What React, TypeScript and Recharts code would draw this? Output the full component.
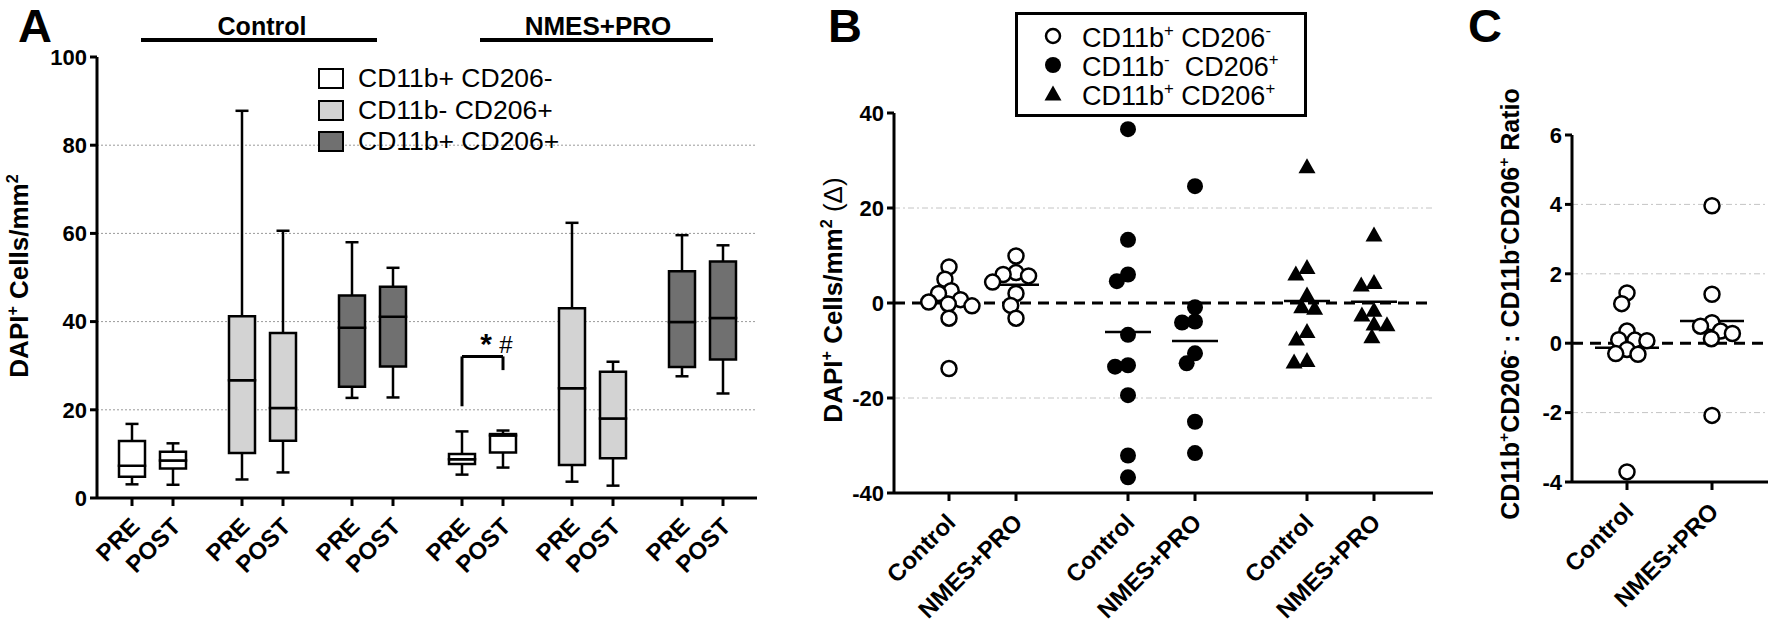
import React from "react";
import {
  CartesianGrid,
  ComposedChart,
  ReferenceArea,
  ReferenceLine,
  Scatter,
  XAxis,
  YAxis,
} from "recharts";

const FONT = '"Liberation Sans", Arial, Helvetica, sans-serif';

// ---- Panel A: one box per entry, order = Control (3 populations x PRE/POST), then NMES+PRO
const groupsA = ["Control", "NMES+PRO"];
const phasesA = ["PRE", "POST"];
const populationsA = ["CD11b+ CD206-", "CD11b- CD206+", "CD11b+ CD206+"];
const populationFills = ["#ffffff", "#d3d3d3", "#707070"];

const boxMin = [3.1, 3.0, 4.2, 5.8, 22.7, 22.8, 5.3, 6.9, 3.7, 2.8, 27.6, 23.7];
const boxQ1 = [4.8, 6.7, 10.2, 13.0, 25.2, 29.8, 7.7, 10.3, 7.5, 9.0, 29.7, 31.4];
const boxMedian = [7.3, 8.5, 26.7, 20.4, 38.6, 41.1, 8.8, 14.2, 24.9, 18.0, 39.9, 40.8];
const boxQ3 = [12.9, 10.5, 41.2, 37.4, 45.9, 47.9, 10.0, 14.5, 43.0, 28.6, 51.4, 53.6];
const boxMax = [16.8, 12.4, 87.8, 60.6, 58.0, 52.2, 15.1, 15.3, 62.4, 30.9, 59.6, 57.3];
const ticksA = [0, 20, 40, 60, 80, 100];

// ---- Panel B: change (POST - PRE) per subject
const groupsB = ["Control", "NMES+PRO"];
const deltaM1Control = [7.6, 5.0, 2.6, 2.0, 0.7, 0.2, -0.2, -0.6, -3.2, -13.8];
const deltaM1Nmes = [9.9, 6.4, 6.0, 5.7, 4.4, 2.0, -0.5, -3.2];
const deltaM2Control = [36.6, 13.3, 6.0, 4.6, -6.7, -13.1, -13.4, -19.4, -32.1, -36.7];
const deltaM2Nmes = [24.6, -0.9, -3.9, -4.1, -10.6, -12.7, -25.0, -31.6];
const deltaDPControl = [28.7, 7.5, 6.1, 1.7, -0.8, -1.1, -6.0, -7.6, -12.1, -12.4];
const deltaDPNmes = [14.3, 4.3, 3.8, -1.5, -2.5, -4.4, -4.6, -7.1];
const ticksB = [-40, -20, 0, 20, 40];

// ---- Panel C: ratio change per subject
const ratioControl = [1.45, 1.14, 0.35, 0.1, 0.09, 0.07, -0.18, -0.3, -0.32, -3.71];
const ratioNmes = [3.96, 1.41, 0.59, 0.49, 0.35, 0.28, 0.13, -2.08];
const ticksC = [-4, -2, 0, 2, 4, 6];

const mean = (v: number[]) => v.reduce((a, b) => a + b, 0) / v.length;

// simple beeswarm: smallest horizontal offset (px) that keeps markers apart
function swarm(values: number[], pxPerUnit: number, diameter: number) {
  const placed: { dx: number; py: number }[] = [];
  return values.map((v) => {
    const py = v * pxPerUnit;
    const blocked: [number, number][] = [];
    placed.forEach((p) => {
      const dy = Math.abs(p.py - py);
      if (dy < diameter) {
        const w = Math.sqrt(diameter * diameter - dy * dy);
        blocked.push([p.dx - w, p.dx + w]);
      }
    });
    const cands = [0, ...blocked.flatMap(([a, b]) => [a, b])].sort(
      (a, b) => Math.abs(a) - Math.abs(b)
    );
    const dx =
      cands.find((c) => blocked.every(([a, b]) => c <= a + 1e-6 || c >= b - 1e-6)) ?? 0;
    placed.push({ dx, py });
    return dx;
  });
}

const axisStyle = { stroke: "#000", strokeWidth: 3 };
const yTick = { fill: "#000", fontSize: 22, fontWeight: 700, fontFamily: FONT };

function SlantTick(props: any) {
  const { x, y, payload, labelOf, fontSize, ox, oy } = props;
  const tx = x + ox;
  const ty = y + oy;
  return (
    <text
      x={tx}
      y={ty}
      transform={`rotate(-45 ${tx} ${ty})`}
      textAnchor="end"
      fontFamily={FONT}
      fontSize={fontSize}
      fontWeight={700}
      fill="#000"
    >
      {labelOf(payload.value)}
    </text>
  );
}

const Sup = ({ c }: { c: string }) => (
  <span style={{ fontSize: "0.62em", verticalAlign: "0.6em", lineHeight: 0 }}>{c}</span>
);

function Abs({ x, y, children, style }: any) {
  return (
    <div
      style={{
        position: "absolute",
        left: x,
        top: y,
        transform: "translate(-50%, -50%)",
        whiteSpace: "nowrap",
        lineHeight: 1,
        ...style,
      }}
    >
      {children}
    </div>
  );
}

// panel letter placed by its left edge and baseline
function Letter({ x, baseline, children }: any) {
  const fs = 47;
  return (
    <div
      style={{
        position: "absolute",
        left: x,
        top: baseline - 0.905 * fs,
        fontSize: fs,
        fontWeight: 700,
        lineHeight: 1.117,
        whiteSpace: "nowrap",
      }}
    >
      {children}
    </div>
  );
}

function VLabel({ x, y, children, style }: any) {
  return (
    <div
      style={{
        position: "absolute",
        left: x,
        top: y,
        transform: "translate(-50%, -50%) rotate(-90deg)",
        whiteSpace: "nowrap",
        lineHeight: 1,
        ...style,
      }}
    >
      {children}
    </div>
  );
}

// ---------------- Panel A ----------------
function PanelA() {
  const boxes = boxMedian.map((med, i) => {
    const g = Math.floor(i / 6);
    const p = Math.floor(i / 2) % 3;
    const ph = i % 2;
    return {
      x: (g * 3 + p) * 110 + ph * 41,
      phase: phasesA[ph],
      fill: populationFills[p],
      min: boxMin[i],
      q1: boxQ1[i],
      med,
      q3: boxQ3[i],
      max: boxMax[i],
    };
  });
  const labelOf = (v: number) => boxes.find((b) => b.x === v)?.phase ?? "";
  const hw = 13;
  const cap = 6.5;
  const ln = { stroke: "#000", strokeWidth: 2.5, ifOverflow: "visible" as const };
  const pre = boxes[6];
  const post = boxes[7];

  return (
    <div style={{ position: "absolute", left: 0, top: 0 }}>
      <ComposedChart width={770} height={622} margin={{ top: 57, right: 13, left: 0, bottom: 34 }}>
        <CartesianGrid
          vertical={false}
          horizontalValues={[20, 40, 60, 80]}
          stroke="#9a9a9a"
          strokeDasharray="2 2"
        />
        <XAxis
          type="number"
          dataKey="x"
          domain={[-35, 625]}
          allowDataOverflow
          ticks={boxes.map((b) => b.x)}
          interval={0}
          height={90}
          axisLine={axisStyle}
          tickLine={axisStyle}
          tickSize={8}
          tickMargin={2}
          tick={<SlantTick labelOf={labelOf} fontSize={24} ox={9} oy={20} />}
        />
        <YAxis
          type="number"
          dataKey="y"
          domain={[0, 100]}
          ticks={ticksA}
          interval={0}
          width={97}
          axisLine={axisStyle}
          tickLine={axisStyle}
          tickSize={7}
          tickMargin={3}
          tick={yTick}
        />
        <Scatter
          data={boxes.map((b) => ({ x: b.x, y: b.med }))}
          shape={() => <g />}
          isAnimationActive={false}
        />
        {boxes.map((b, i) => (
          <React.Fragment key={i}>
            <ReferenceLine {...ln} segment={[{ x: b.x, y: b.q3 }, { x: b.x, y: b.max }]} />
            <ReferenceLine {...ln} segment={[{ x: b.x, y: b.q1 }, { x: b.x, y: b.min }]} />
            <ReferenceLine {...ln} segment={[{ x: b.x - cap, y: b.max }, { x: b.x + cap, y: b.max }]} />
            <ReferenceLine {...ln} segment={[{ x: b.x - cap, y: b.min }, { x: b.x + cap, y: b.min }]} />
            <ReferenceArea
              x1={b.x - hw}
              x2={b.x + hw}
              y1={b.q1}
              y2={b.med}
              fill={b.fill}
              fillOpacity={1}
              stroke="#000"
              strokeWidth={2.5}
              ifOverflow="visible"
            />
            <ReferenceArea
              x1={b.x - hw}
              x2={b.x + hw}
              y1={b.med}
              y2={b.q3}
              fill={b.fill}
              fillOpacity={1}
              stroke="#000"
              strokeWidth={2.5}
              ifOverflow="visible"
            />
          </React.Fragment>
        ))}
        {/* significance bracket NMES+PRO CD11b+CD206- PRE vs POST */}
        <ReferenceLine {...ln} strokeWidth={3} segment={[{ x: pre.x, y: 20.8 }, { x: pre.x, y: 32.1 }]} />
        <ReferenceLine {...ln} strokeWidth={3} segment={[{ x: pre.x, y: 32.1 }, { x: post.x, y: 32.1 }]} />
        <ReferenceLine {...ln} strokeWidth={3} segment={[{ x: post.x, y: 32.1 }, { x: post.x, y: 29 }]} />
      </ComposedChart>
    </div>
  );
}

// ---------------- Panel B ----------------
const circleOpen = (p: any) => (
  <circle cx={p.cx} cy={p.cy} r={7.5} fill="#fff" stroke="#000" strokeWidth={2.5} />
);
const circleFilled = (p: any) => <circle cx={p.cx} cy={p.cy} r={8} fill="#000" />;
const triangle = (p: any) => (
  <path
    d={`M${p.cx},${p.cy - 8.5} L${p.cx + 8.5},${p.cy + 6.5} L${p.cx - 8.5},${p.cy + 6.5} Z`}
    fill="#000"
  />
);

function PanelB() {
  const sets = [
    [deltaM1Control, deltaM1Nmes],
    [deltaM2Control, deltaM2Nmes],
    [deltaDPControl, deltaDPNmes],
  ];
  const shapes = [circleOpen, circleFilled, triangle];
  const series = sets.flatMap((pair, s) =>
    pair.map((vals, g) => {
      const x0 = s * 179 + g * 67;
      const off = swarm(vals, 4.75, 13);
      return {
        x0,
        label: groupsB[g],
        shape: shapes[s],
        mean: mean(vals),
        pts: vals.map((v, k) => ({ x: x0 + off[k], y: v })),
      };
    })
  );
  const labelOf = (v: number) => series.find((d) => d.x0 === v)?.label ?? "";

  return (
    <div style={{ position: "absolute", left: 800, top: 0 }}>
      <ComposedChart width={640} height={622} margin={{ top: 113, right: 7, left: 0, bottom: 9 }}>
        <CartesianGrid
          vertical={false}
          horizontalValues={[-20, 20]}
          stroke="#c4c4c4"
          strokeDasharray="6 3 2 3"
        />
        <XAxis
          type="number"
          dataKey="x"
          domain={[-55, 484]}
          allowDataOverflow
          ticks={series.map((d) => d.x0)}
          interval={0}
          height={120}
          axisLine={axisStyle}
          tickLine={axisStyle}
          tickSize={8}
          tickMargin={2}
          tick={<SlantTick labelOf={labelOf} fontSize={24} ox={8} oy={21} />}
        />
        <YAxis
          type="number"
          dataKey="y"
          domain={[-40, 40]}
          ticks={ticksB}
          interval={0}
          width={94}
          axisLine={axisStyle}
          tickLine={axisStyle}
          tickSize={7}
          tickMargin={3}
          tick={yTick}
        />
        <ReferenceLine y={0} stroke="#000" strokeWidth={3} strokeDasharray="11 7" />
        {series.map((d, i) => (
          <Scatter key={i} data={d.pts} shape={d.shape} isAnimationActive={false} />
        ))}
        {series.map((d, i) => (
          <ReferenceLine
            key={"m" + i}
            stroke="#000"
            strokeWidth={2.5}
            segment={[
              { x: d.x0 - 23, y: d.mean },
              { x: d.x0 + 23, y: d.mean },
            ]}
          />
        ))}
      </ComposedChart>
    </div>
  );
}

// ---------------- Panel C ----------------
function PanelC() {
  const groups = [ratioControl, ratioNmes].map((vals, g) => {
    const x0 = g * 85;
    const off = swarm(vals, 34.7, 12);
    return {
      x0,
      label: groupsB[g],
      mean: mean(vals),
      pts: vals.map((v, k) => ({ x: x0 + off[k], y: v })),
    };
  });
  const labelOf = (v: number) => groups.find((d) => d.x0 === v)?.label ?? "";

  return (
    <div style={{ position: "absolute", left: 1480, top: 0 }}>
      <ComposedChart width={290} height={622} margin={{ top: 135, right: 2, left: 0, bottom: 10 }}>
        <CartesianGrid
          vertical={false}
          horizontalValues={[-2, 2, 4]}
          stroke="#c4c4c4"
          strokeDasharray="6 3 2 3"
        />
        <XAxis
          type="number"
          dataKey="x"
          domain={[-55, 141]}
          allowDataOverflow
          ticks={groups.map((d) => d.x0)}
          interval={0}
          height={130}
          axisLine={axisStyle}
          tickLine={axisStyle}
          tickSize={8}
          tickMargin={2}
          tick={<SlantTick labelOf={labelOf} fontSize={24} ox={8} oy={21} />}
        />
        <YAxis
          type="number"
          dataKey="y"
          domain={[-4, 6]}
          ticks={ticksC}
          interval={0}
          width={92}
          axisLine={axisStyle}
          tickLine={axisStyle}
          tickSize={7}
          tickMargin={3}
          tick={yTick}
        />
        <ReferenceLine y={0} stroke="#000" strokeWidth={3} strokeDasharray="11 7" />
        {groups.map((d, i) => (
          <Scatter key={i} data={d.pts} shape={circleOpen} isAnimationActive={false} />
        ))}
        {groups.map((d, i) => (
          <ReferenceLine
            key={"m" + i}
            stroke="#000"
            strokeWidth={2.5}
            segment={[
              { x: d.x0 - 32, y: d.mean },
              { x: d.x0 + 32, y: d.mean },
            ]}
          />
        ))}
      </ComposedChart>
    </div>
  );
}

export default function App() {
  const legendMarkers = [
    <circle cx={10} cy={10} r={7} fill="#fff" stroke="#000" strokeWidth={2.5} />,
    <circle cx={10} cy={10} r={8} fill="#000" />,
    <path d="M10,1.5 L18.5,16.5 L1.5,16.5 Z" fill="#000" />,
  ];
  const legendTextsB = [
    <>CD11b<Sup c="+" /> CD206<Sup c="-" /></>,
    <>CD11b<Sup c="-" />&nbsp; CD206<Sup c="+" /></>,
    <>CD11b<Sup c="+" /> CD206<Sup c="+" /></>,
  ];
  return (
    <div
      style={{
        position: "absolute",
        left: 0,
        top: 0,
        width: 1770,
        height: 622,
        background: "#fff",
        fontFamily: FONT,
        color: "#000",
        overflow: "hidden",
      }}
    >
      <PanelA />
      <PanelB />
      <PanelC />

      {/* panel letters */}
      <Letter x={18} baseline={43}>A</Letter>
      <Letter x={828} baseline={43}>B</Letter>
      <Letter x={1468} baseline={43}>C</Letter>

      {/* panel A group headers */}
      <Abs x={262} y={26} style={{ fontSize: 25, fontWeight: 700 }}>{groupsA[0]}</Abs>
      <div style={{ position: "absolute", left: 141, top: 38, width: 236, height: 4, background: "#000" }} />
      <Abs x={598} y={26} style={{ fontSize: 26, fontWeight: 700 }}>{groupsA[1]}</Abs>
      <div style={{ position: "absolute", left: 480, top: 38, width: 233, height: 4, background: "#000" }} />

      {/* significance marks */}
      <Abs x={486} y={344} style={{ fontSize: 30, fontWeight: 700 }}>*</Abs>
      <Abs x={506} y={345} style={{ fontSize: 24 }}>#</Abs>

      {/* panel A legend */}
      {populationsA.map((name, i) => (
        <React.Fragment key={name}>
          <div
            style={{
              position: "absolute",
              left: 318,
              top: 68 + i * 31.5,
              width: 22,
              height: 17,
              background: populationFills[i],
              border: "2.5px solid #000",
            }}
          />
          <div
            style={{
              position: "absolute",
              left: 358,
              top: 78 + i * 31.5,
              transform: "translateY(-50%)",
              fontSize: 26.5,
              lineHeight: 1,
              whiteSpace: "nowrap",
            }}
          >
            {name}
          </div>
        </React.Fragment>
      ))}

      {/* panel B legend */}
      <div
        style={{
          position: "absolute",
          left: 1015,
          top: 12,
          width: 286,
          height: 99,
          border: "3px solid #000",
        }}
      />
      {legendTextsB.map((t, i) => (
        <React.Fragment key={i}>
          <svg
            width={20}
            height={20}
            style={{ position: "absolute", left: 1043, top: 26 + i * 29 }}
          >
            {legendMarkers[i]}
          </svg>
          <div
            style={{
              position: "absolute",
              left: 1082,
              top: 38 + i * 29,
              transform: "translateY(-50%)",
              fontSize: 27,
              lineHeight: 1,
              whiteSpace: "nowrap",
            }}
          >
            {t}
          </div>
        </React.Fragment>
      ))}

      {/* y-axis titles */}
      <VLabel x={19} y={276} style={{ fontSize: 26, fontWeight: 700 }}>
        DAPI<Sup c="+" /> Cells/mm<Sup c="2" />
      </VLabel>
      <VLabel x={833} y={300} style={{ fontSize: 26, fontWeight: 700 }}>
        DAPI<Sup c="+" /> Cells/mm<Sup c="2" /> <span style={{ fontWeight: 400 }}>(Δ)</span>
      </VLabel>
      <VLabel x={1510} y={304} style={{ fontSize: 25, fontWeight: 700 }}>
        CD11b<Sup c="+" />CD206<Sup c="-" /> : CD11b<Sup c="-" />CD206<Sup c="+" /> Ratio
      </VLabel>
    </div>
  );
}
